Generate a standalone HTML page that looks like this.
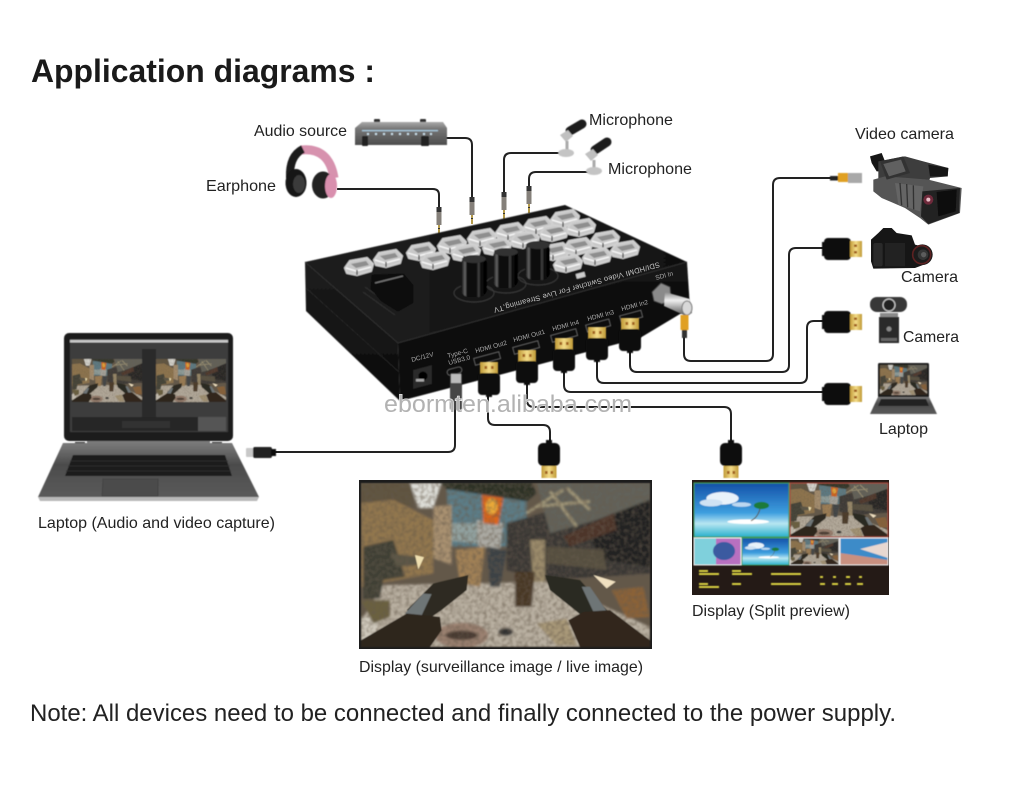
<!DOCTYPE html>
<html><head><meta charset="utf-8"><title>Application diagrams</title>
<style>html,body{margin:0;padding:0;background:#fff;width:1013px;height:805px;overflow:hidden}svg{display:block;font-family:"Liberation Sans",Arial,sans-serif}</style></head>
<body>
<svg width="1013" height="805" viewBox="0 0 1013 805" xmlns="http://www.w3.org/2000/svg">
<defs>
<filter id="s" x="-30%" y="-30%" width="160%" height="160%"><feGaussianBlur stdDeviation="0.5"/></filter>
<filter id="sb" x="-5%" y="-5%" width="110%" height="110%"><feGaussianBlur stdDeviation="3"/></filter>
<filter id="tex" x="0" y="0" width="100%" height="100%"><feTurbulence type="fractalNoise" baseFrequency=".09" numOctaves="2" seed="4"/><feGaussianBlur stdDeviation="1.500"/><feColorMatrix type="matrix" values="0 0 0 0 .13  0 0 0 0 .1  0 0 0 0 .07  1.300 0 0 0 -.5"/></filter>
<linearGradient id="knob" x1="0" y1="0" x2="1" y2="0"><stop offset="0" stop-color="#0a0a0a"/><stop offset=".16" stop-color="#666"/><stop offset=".24" stop-color="#0c0c0c"/><stop offset=".6" stop-color="#111"/><stop offset=".68" stop-color="#444"/><stop offset=".76" stop-color="#0c0c0c"/><stop offset="1" stop-color="#000"/></linearGradient>
<linearGradient id="gold" x1="0" y1="0" x2="1" y2="0"><stop offset="0" stop-color="#c09a38"/><stop offset=".5" stop-color="#f4dc88"/><stop offset="1" stop-color="#c09a38"/></linearGradient>
<linearGradient id="sky" x1="0" y1="0" x2="0" y2="1"><stop offset="0" stop-color="#1450a8"/><stop offset=".55" stop-color="#3d9ede"/><stop offset=".75" stop-color="#b8e6f2"/><stop offset="1" stop-color="#28b0cc"/></linearGradient>
<linearGradient id="audio" x1="0" y1="0" x2="0" y2="1"><stop offset="0" stop-color="#aaa"/><stop offset=".3" stop-color="#777"/><stop offset="1" stop-color="#4c4c4c"/></linearGradient>
<linearGradient id="front" x1="0" y1="0" x2="0" y2="1"><stop offset="0" stop-color="#131313"/><stop offset="1" stop-color="#0a0a0a"/></linearGradient>
<linearGradient id="side" x1="0" y1="0" x2="0" y2="1"><stop offset="0" stop-color="#1d1d1d"/><stop offset="1" stop-color="#0c0c0c"/></linearGradient>
<linearGradient id="top" x1="0" y1="0" x2="1" y2="0"><stop offset="0" stop-color="#1e1e1e"/><stop offset="1" stop-color="#111"/></linearGradient>
<linearGradient id="base" x1="0" y1="0" x2="0" y2="1"><stop offset="0" stop-color="#7a7a7a"/><stop offset=".4" stop-color="#4c4c4c"/><stop offset="1" stop-color="#5a5a5a"/></linearGradient>
<linearGradient id="silver" x1="0" y1="0" x2="0" y2="1"><stop offset="0" stop-color="#888"/><stop offset=".35" stop-color="#f0f0f0"/><stop offset=".7" stop-color="#999"/><stop offset="1" stop-color="#555"/></linearGradient>

<symbol id="game" viewBox="33 40 867 490" preserveAspectRatio="none">
<rect x="33" y="40" width="867" height="490" fill="#63584a"/>
<g filter="url(#sb)">
<polygon points="33,40 190,40 190,115 130,95 33,105" fill="#5e5240"/>
<polygon points="180,40 275,40 250,115 205,115" fill="#dcdcd6"/>
<polygon points="290,60 530,60 530,230 300,230" fill="#5c7c86"/>
<polygon points="300,160 390,160 390,222 300,212" fill="#90a09e"/>
<polygon points="33,100 130,90 250,150 250,310 33,350" fill="#91764e"/>
<polygon points="250,110 305,105 305,285 250,265" fill="#a89070"/>
<polygon points="270,40 545,40 560,70 530,95 290,58" fill="#2f3028"/>
<polygon points="380,150 460,160 450,240 385,230" fill="#aaa9a2"/>
<polygon points="395,75 460,85 445,165 400,160" fill="#d8651f"/>
<ellipse cx="425" cy="110" rx="18" ry="24" fill="#e9a838"/>
<polygon points="470,160 900,40 900,310 590,330 470,300" fill="#3a3935"/>
<polygon points="560,40 900,40 900,90 740,150 600,190" fill="#62625a"/>
<path d="M560 110 L720 95 M600 65 L680 170 M650 55 L720 120 M530 130 L640 60" stroke="#a49a7a" stroke-width="8" fill="none"/>
<polygon points="700,170 900,90 900,290 760,270" fill="#232323"/>
<polygon points="640,200 790,130 800,180 660,230" fill="#4e342a"/>
<polygon points="590,230 760,240 770,300 590,280" fill="#56503f"/>
<polygon points="540,210 585,210 585,340 550,340" fill="#9a8a6a"/>
<polygon points="100,345 600,335 900,470 900,530 33,530 33,450" fill="#b8afa0"/>
<polygon points="33,440 90,440 70,510 33,510" fill="#cfc9bc"/>
<polygon points="315,240 405,230 390,350 330,340" fill="#a08055"/>
<polygon points="410,230 470,240 450,350 420,350" fill="#3d4244"/>
<polygon points="40,230 130,210 165,320 100,330 90,385 40,385" fill="#3f3f35"/>
<polygon points="120,250 200,260 205,285 140,290" fill="#5a5544"/>
<polygon points="33,390 120,390 120,440 70,460" fill="#6a6040"/>
<polygon points="495,305 555,305 545,410 495,410" fill="#4a3828"/>
<polygon points="785,360 880,350 900,440 830,445" fill="#8a6238"/>
<polygon points="560,460 650,445 680,525 620,525" fill="#a89878"/>
<ellipse cx="335" cy="495" rx="80" ry="38" fill="#9a8070"/><ellipse cx="335" cy="495" rx="48" ry="14" fill="#4a3a30"/>
<ellipse cx="467" cy="485" rx="22" ry="12" fill="#333"/>
</g>
<rect x="33" y="40" width="867" height="490" filter="url(#tex)"/>
<polygon points="195,255 222,262 205,298" fill="#f0e0b0"/>
<polygon points="730,315 797,335 770,355" fill="#f0e0c0"/>
<polygon points="170,420 250,340 355,315 350,360 275,420 230,450" fill="#2e2a20"/>
<polygon points="165,430 220,370 245,372 212,442" fill="#6e7476"/>
<polygon points="33,530 33,510 170,430 270,440 275,480 240,530" fill="#2f271e"/>
<polygon points="585,315 690,330 780,430 700,440 600,360" fill="#2b2a22"/>
<polygon points="695,350 720,350 775,430 735,435" fill="#6e7476"/>
<polygon points="655,450 700,425 780,420 900,510 900,530 690,530" fill="#30281e"/>
</symbol>

<symbol id="beach" viewBox="0 0 100 60" preserveAspectRatio="none">
<rect width="100" height="60" fill="url(#sky)"/>
<ellipse cx="30" cy="17" rx="17" ry="7" fill="#e8f2fa"/><ellipse cx="18" cy="22" rx="12" ry="4" fill="#cfe2f3"/><ellipse cx="50" cy="24" rx="10" ry="2.500" fill="#bcd8f0"/>
<ellipse cx="57" cy="43" rx="22" ry="2.600" fill="#fff"/>
<path d="M60 42 Q68 38 70 26" stroke="#5a4a30" stroke-width="1" fill="none"/>
<ellipse cx="71" cy="25" rx="8" ry="4" fill="#1d7a3a"/>
</symbol>

<g id="b">
<path d="M-14,1 L-9,-6 L8,-9 L14,-3 L12,4 L-2,8 L-12,6Z" fill="#c8c8c8" stroke="#d0d0d0" stroke-width="2" stroke-linejoin="round"/>
<path d="M-8,-3 L7,-6 L10,-2 L-3,1Z" fill="#8e8e8e"/>
<path d="M-13,1 L-3,4 L12,0" stroke="#f4f4f4" stroke-width="1.600" fill="none"/>
<path d="M-2,3 L-2,8" stroke="#222" stroke-width="1.200"/>
</g>

<g id="hv"><rect x="-9" y="0" width="18" height="12" fill="url(#gold)"/><rect x="-4.500" y="4" width="2.600" height="3" fill="#a0601c"/><rect x="2" y="4" width="2.600" height="3" fill="#a0601c"/><rect x="-11" y="11" width="22" height="22" rx="4" fill="#111"/><rect x="-3" y="32" width="6" height="3" fill="#111"/></g>
<g id="hd"><rect x="-7.500" y="0" width="15" height="12" fill="url(#gold)"/><rect x="-4" y="4" width="2.600" height="3" fill="#a0601c"/><rect x="1.500" y="4" width="2.600" height="3" fill="#a0601c"/><rect x="-11" y="12" width="22" height="23" rx="5" fill="#111"/><rect x="-3" y="34" width="6" height="4" fill="#111"/></g>
<g id="hh"><rect x="0" y="4" width="3" height="14" fill="#111"/><rect x="2" y="0" width="27" height="22" rx="4" fill="#111"/><rect x="28" y="3" width="12" height="16" fill="url(#gold)"/><rect x="32" y="6.500" width="3" height="2.500" fill="#a0601c"/><rect x="32" y="13" width="3" height="2.500" fill="#a0601c"/></g>
<g id="jack"><rect x="-2.500" y="0" width="5" height="5" fill="#333"/><rect x="-2.500" y="5" width="5" height="13" fill="#85807a"/><rect x="-1" y="18" width="2" height="9" fill="#b49a4a"/><rect x="-1" y="21" width="2" height="1" fill="#333"/></g>
</defs>

<rect width="1013" height="805" fill="#fff"/>

<!-- Cables -->
<g fill="none" stroke="#222" stroke-width="2">
<path d="M337 189 H433 Q439 189 439 195 V210"/>
<path d="M445 138 H465 Q472 138 472 145 V200"/>
<path d="M563 153 H511 Q504 153 504 160 V195"/>
<path d="M588 172 H536 Q529 172 529 179 V188"/>
<path d="M684 335 V354 Q684 361 691 361 H766 Q773 361 773 354 V185 Q773 178 780 178 H832"/>
<path d="M630 352 V365 Q630 372 637 372 H782 Q789 372 789 365 V255 Q789 248 796 248 H826"/>
<path d="M597 360 V376 Q597 383 604 383 H800 Q807 383 807 376 V328 Q807 321 814 321 H826"/>
<path d="M564 372 V385 Q564 392 571 392 H826"/>
<path d="M527 384 V400 Q527 407 534 407 H724 Q731 407 731 414 V442"/>
<path d="M488 394 V418 Q488 425 495 425 H543 Q550 425 550 432 V442"/>
<path d="M455 400 V445 Q455 452 448 452 H274"/>
</g>

<!-- Jacks -->
<use href="#jack" x="439" y="207"/><use href="#jack" x="472" y="197"/><use href="#jack" x="504" y="192"/><use href="#jack" x="529" y="186"/>

<!-- Device -->
<g filter="url(#s)">
<polygon points="305,262 398,343 400,401 306,311" fill="url(#side)"/>
<polygon points="398,343 687,262 690,308 640,338 400,401" fill="url(#front)"/>
<polygon points="305,262 565,205 687,262 398,343" fill="url(#top)"/>
<path d="M305 262 L398 343 L687 262" stroke="#333" stroke-width="1" fill="none"/>
<path d="M306 288 L399 372" stroke="#262626" stroke-width="1"/>
<use href="#b" x="359" y="267"/><use href="#b" x="388" y="259"/><use href="#b" x="421" y="252"/><use href="#b" x="435" y="261"/>
<use href="#b" x="452" y="245"/><use href="#b" x="466" y="253"/><use href="#b" x="482" y="238"/><use href="#b" x="497" y="247"/>
<use href="#b" x="510" y="232"/><use href="#b" x="525" y="240"/><use href="#b" x="538" y="226"/><use href="#b" x="554" y="233"/>
<use href="#b" x="565" y="219"/><use href="#b" x="581" y="228"/><use href="#b" x="605" y="240"/><use href="#b" x="625" y="250"/>
<use href="#b" x="555" y="252"/><use href="#b" x="578" y="247"/><use href="#b" x="597" y="257"/><use href="#b" x="568" y="264"/>
<rect x="576" y="273" width="9" height="5" fill="#ccc" transform="rotate(-15 580 275)"/>
<!-- Fader -->
<path d="M365 287 L397 310 M363 292 L395 315" stroke="#333" stroke-width="1"/>
<path d="M373 276 L403 275 L412 286 L412 302 L398 310 L382 300 L372 288Z" fill="#0c0c0c" stroke="#0c0c0c" stroke-width="3" stroke-linejoin="round"/>
<path d="M375 283 L403 276" stroke="#777" stroke-width="1.400"/>
<!-- Knobs -->
<ellipse cx="474" cy="293" rx="20" ry="9" fill="none" stroke="#3a3a3a"/><ellipse cx="506" cy="284" rx="20" ry="9" fill="none" stroke="#3a3a3a"/><ellipse cx="538" cy="276" rx="20" ry="9" fill="none" stroke="#3a3a3a"/>
<rect x="461" y="256" width="26" height="41" rx="8" fill="url(#knob)"/><ellipse cx="474" cy="259" rx="12" ry="4" fill="#333"/>
<rect x="493" y="249" width="25" height="39" rx="8" fill="url(#knob)"/><ellipse cx="506" cy="252" rx="12" ry="4" fill="#333"/>
<rect x="525" y="242" width="25" height="38" rx="8" fill="url(#knob)"/><ellipse cx="538" cy="245" rx="12" ry="4" fill="#333"/>
</g>
<g fill="#aaa" font-size="6.500">
<text transform="translate(659,262) rotate(164.500)" textLength="172" font-size="7.500" fill="#c4c4c4">SDI/HDMI Video Switcher For Live Streaming,TV</text>
<text transform="translate(412,362) rotate(-15)">DC/12V</text>
<text transform="translate(448,358) rotate(-15)">Type-C</text>
<text transform="translate(449,365) rotate(-15)">USB3.0</text>
<text transform="translate(476,353) rotate(-15)">HDMI Out2</text>
<text transform="translate(514,342) rotate(-15)">HDMI Out1</text>
<text transform="translate(553,331) rotate(-15)">HDMI In4</text>
<text transform="translate(588,321) rotate(-15)">HDMI In3</text>
<text transform="translate(622,311) rotate(-15)">HDMI In2</text>
<text transform="translate(656,280) rotate(-15)">SDI In</text>
</g>
<g filter="url(#s)">
<!-- DC jack -->
<polygon points="413,370 432,365 432,384 413,389" fill="#2a2a2a"/><circle cx="423" cy="376" r="4.500" fill="#050505"/><rect x="416" y="379" width="8" height="2.500" fill="#aaa"/>
<!-- Port slots -->
<g fill="none" stroke="#666" stroke-width="1">
<rect x="447" y="368" width="15" height="6" rx="3" transform="rotate(-15 455 371)"/>
<rect x="474" y="355" width="26" height="7" transform="rotate(-15 487 358)"/>
<rect x="513" y="344" width="26" height="7" transform="rotate(-15 526 347)"/>
<rect x="551" y="332" width="26" height="7" transform="rotate(-15 564 335)"/>
<rect x="586" y="322" width="24" height="7" transform="rotate(-15 598 325)"/>
<rect x="620" y="313" width="22" height="7" transform="rotate(-15 631 316)"/>
</g>
<!-- BNC -->
<polygon points="652,292 661,283 670,287 671,299 662,304 654,301" fill="#8a8a8a" stroke="#444"/>
<polygon points="665,292 690,299 692,313 686,316 664,306" fill="url(#silver)"/>
<ellipse cx="687" cy="308" rx="5" ry="7" fill="#d8d8d8" stroke="#777"/>
<rect x="680.500" y="315" width="8" height="15" fill="#e0a020"/><rect x="682" y="330" width="5" height="8" fill="#333"/>
<!-- Type-C -->
<rect x="450" y="373" width="12" height="37" rx="2" fill="#444"/><rect x="451" y="374" width="10" height="9" fill="#bbb"/>
<!-- HDMI in device -->
<use href="#hv" x="489" y="362"/><use href="#hv" x="527" y="350"/><use href="#hv" x="564" y="338"/><use href="#hv" x="597" y="327"/><use href="#hv" x="630" y="318"/>
<!-- HDMI right -->
<use href="#hh" x="822" y="238"/><use href="#hh" x="822" y="311"/><use href="#hh" x="822" y="383"/>
<!-- BNC at camera -->
<rect x="830" y="176" width="8" height="4.500" fill="#222"/><rect x="838" y="173" width="10" height="9" fill="#e0a020"/><rect x="848" y="173" width="14" height="10" fill="#a8a8a8"/>
<!-- HDMI displays (pointing down) -->
<g transform="translate(549,478) scale(1,-1)"><use href="#hd"/></g>
<g transform="translate(731,478) scale(1,-1)"><use href="#hd"/></g>
<!-- USB-C on laptop cable -->
<rect x="246" y="448" width="8" height="9" rx="1" fill="#c8c8c8"/><rect x="253" y="447" width="19" height="11" rx="2" fill="#222"/><rect x="271" y="449" width="5" height="7" fill="#111"/>
</g>

<!-- Audio source -->
<g filter="url(#s)">
<rect x="374" y="119" width="6" height="4" rx="1" fill="#333"/><rect x="420" y="119" width="6" height="4" rx="1" fill="#333"/>
<polygon points="355,128 362,122 443,122 447,128 447,145 355,145" fill="url(#audio)"/>
<rect x="362" y="130" width="76" height="1.300" fill="#a8c8dc"/>
<g fill="#c8dce8"><rect x="367" y="133" width="2" height="2"/><rect x="375" y="133" width="2" height="2"/><rect x="383" y="133" width="2" height="2"/><rect x="391" y="133" width="2" height="2"/><rect x="399" y="133" width="2" height="2"/><rect x="407" y="133" width="2" height="2"/><rect x="415" y="133" width="2" height="2"/><rect x="423" y="133" width="2" height="2"/><rect x="430" y="133" width="2" height="2"/></g>
<rect x="362" y="136" width="6" height="10" rx="1" fill="#222"/><rect x="421" y="136" width="8" height="10" rx="1" fill="#222"/>
</g>
<!-- Headphones -->
<g filter="url(#s)">
<path d="M301 150 Q329 147 334 178" fill="none" stroke="#d792ae" stroke-width="9"/>
<path d="M290 178 Q289 156 303 149" fill="none" stroke="#1a1a1a" stroke-width="8"/>
<ellipse cx="296" cy="183" rx="10.500" ry="14" fill="#141414"/><ellipse cx="299" cy="184" rx="6" ry="9" fill="#3a3a3a"/>
<ellipse cx="323" cy="185" rx="11" ry="13.500" fill="#222"/>
<ellipse cx="331" cy="186" rx="6" ry="12" fill="#d98fae"/>
</g>
<!-- Microphones -->
<g filter="url(#s)">
<path d="M570 131 L582 124" stroke="#1f1f1f" stroke-width="9" stroke-linecap="round"/>
<path d="M560 135 L568 130 L573 136 L566 142Z" fill="#c0c0c0"/>
<path d="M567 141 L567 150" stroke="#aaa" stroke-width="3"/>
<ellipse cx="566" cy="153" rx="8" ry="4" fill="#c4c4c4"/>
<path d="M595 150 L607 142" stroke="#1f1f1f" stroke-width="9" stroke-linecap="round"/>
<path d="M585 154 L593 149 L598 155 L591 161Z" fill="#c0c0c0"/>
<path d="M594 160 L594 168" stroke="#aaa" stroke-width="3"/>
<ellipse cx="594" cy="171" rx="8" ry="4" fill="#c4c4c4"/>
</g>

<!-- Video camera + DSLR: coordinates in 3x space -->
<g filter="url(#s)" transform="translate(865,148) scale(.33333)">
<polygon points="15,25 50,15 60,40 55,70 35,70 20,45" fill="#161616"/>
<polygon points="40,40 120,25 175,40 250,60 248,85 195,90 190,110 40,105" fill="#3c3c3c"/>
<polygon points="190,50 250,60 248,85 195,85" fill="#161616"/>
<polygon points="25,95 60,85 130,90 190,95 290,120 285,195 190,230 165,210 120,180 50,150 25,130" fill="#555"/>
<polygon points="45,40 115,25 135,75 65,95" fill="#333"/>
<polygon points="55,48 108,35 122,70 72,85" fill="#606060"/>
<polygon points="90,105 175,115 165,190 100,170" fill="#656565"/>
<path d="M105 105 L110 172 M125 108 L128 178 M145 112 L146 184" stroke="#333" stroke-width="4"/>
<polygon points="172,130 285,120 282,195 190,228 168,205" fill="#222"/>
<polygon points="215,132 275,125 272,190 220,205" fill="#0a0a0a"/>
<circle cx="190" cy="155" r="15" fill="#6e2a3a"/><circle cx="190" cy="155" r="6" fill="#e9c0c8"/>
<!-- DSLR -->
<path d="M18 275 L40 255 L55 240 L80 240 L95 255 L140 262 L150 290 L190 300 L190 345 L150 360 L25 362 L18 340Z" fill="#181818"/>
<rect x="25" y="285" width="28" height="70" rx="6" fill="#2a2a2a"/>
<rect x="60" y="285" width="60" height="70" fill="#202020"/>
<circle cx="172" cy="320" r="31" fill="#1a1a1a"/>
<circle cx="170" cy="320" r="27" fill="none" stroke="#5c2020" stroke-width="5"/>
<circle cx="174" cy="320" r="16" fill="#363636"/><circle cx="176" cy="320" r="8" fill="#5c5c5c"/>
</g>
<!-- Webcam -->
<g filter="url(#s)">
<rect x="870" y="297" width="37" height="15" rx="7" fill="#383838"/>
<circle cx="889" cy="305" r="6" fill="#222" stroke="#ccc" stroke-width="1.200"/>
<rect x="880" y="313" width="18" height="4" fill="#8a8a8a"/>
<rect x="879" y="317" width="20" height="26" fill="#2c2c2c"/>
<circle cx="889" cy="329" r="2.500" fill="#888"/><rect x="881" y="338" width="16" height="3" fill="#666"/>
</g>
<!-- Small laptop -->
<g filter="url(#s)">
<rect x="878" y="363" width="51" height="35" rx="1.500" fill="#1c1c1c"/>
<svg x="880" y="365" width="47" height="30"><use href="#game" width="47" height="30"/></svg>
<polygon points="878,397 929,397 937,414 870,414" fill="url(#base)"/>
<polygon points="881,399 926,399 929,406 878,406" fill="#222"/>
</g>

<!-- Big laptop -->
<g filter="url(#s)">
<rect x="64" y="333" width="169" height="108" rx="5" fill="#1c1c1c"/>
<rect x="70" y="339" width="158" height="93" fill="#3c3c3c"/>
<rect x="70" y="340" width="158" height="2.500" fill="#c8c8c8"/>
<rect x="142" y="349" width="14" height="68" fill="#2a2a2a"/>
<svg x="72" y="359" width="70" height="43"><use href="#game" width="70" height="43"/></svg>
<svg x="156" y="359" width="70" height="43"><use href="#game" width="70" height="43"/></svg>
<rect x="72" y="417" width="154" height="14" fill="#252525"/>
<rect x="122" y="421" width="48" height="7" fill="#333"/><rect x="198" y="417" width="28" height="14" fill="#555"/>
<rect x="75" y="442" width="10" height="6" fill="#222"/><rect x="212" y="442" width="10" height="6" fill="#222"/>
<rect x="87" y="441" width="123" height="6" fill="#7a7a7a"/>
<polygon points="63,443 232,443 259,497 38,497" fill="url(#base)"/>
<polygon points="38,497 259,497 257,501 40,501" fill="#b8b8b8"/>
<polygon points="73,455 225,455 232,476 65,476" fill="#1f1f1f"/>
<path d="M70 461 H228 M68 466 H230 M66 471 H231" stroke="#333" stroke-width=".8"/>
<polygon points="103,479 158,479 158,496 102,496" fill="#4c4c4c" stroke="#3a3a3a" stroke-width=".6"/>
</g>

<!-- Main display -->
<rect x="359" y="480" width="293" height="169" fill="#1c1c1c"/>
<g filter="url(#s)"><svg x="361" y="483" width="289" height="164"><use href="#game" width="289" height="164"/></svg></g>

<!-- Split display -->
<rect x="692" y="480" width="197" height="115" fill="#241a16"/>
<g filter="url(#s)">
<svg x="694" y="483" width="95" height="54"><use href="#beach" width="95" height="54"/></svg>
<rect x="694" y="483" width="95" height="54" fill="none" stroke="#3e9a5c" stroke-width="1.200"/>
<svg x="790" y="483" width="98" height="54"><use href="#game" width="98" height="54"/></svg>
<rect x="790" y="483" width="98" height="54" fill="none" stroke="#a84a3c" stroke-width="1.200"/>
<rect x="694" y="538" width="47" height="27" fill="#7fd0dc"/><rect x="716" y="538" width="25" height="27" fill="#b870c0"/><ellipse cx="724" cy="551" rx="11" ry="9" fill="#3a5aa0"/><rect x="694" y="538" width="47" height="27" fill="none" stroke="#eee"/>
<svg x="742" y="538" width="47" height="27"><use href="#beach" width="47" height="27"/></svg><rect x="742" y="538" width="47" height="27" fill="none" stroke="#3e9a5c"/>
<svg x="790" y="538" width="49" height="27"><use href="#game" width="49" height="27"/></svg><rect x="790" y="538" width="49" height="27" fill="none" stroke="#ddd"/>
<rect x="840" y="538" width="48" height="27" fill="#3d8bc8"/><polygon points="840,553 888,560 888,565 840,565" fill="#c89080"/><polygon points="860,549 888,542 888,558" fill="#e8d8d0"/><rect x="840" y="538" width="48" height="27" fill="none" stroke="#eee"/>
<g fill="#d8d040">
<rect x="699" y="570" width="9" height="2"/><rect x="699" y="573" width="20" height="2"/><rect x="732" y="570" width="9" height="2"/><rect x="732" y="573" width="20" height="2"/><rect x="771" y="573" width="30" height="2"/>
<rect x="699" y="583" width="9" height="2"/><rect x="699" y="586" width="20" height="2"/><rect x="732" y="583" width="9" height="2"/><rect x="771" y="583" width="30" height="2"/>
<rect x="820" y="576" width="3" height="2"/><rect x="833" y="576" width="3" height="2"/><rect x="846" y="576" width="4" height="2"/><rect x="859" y="576" width="3" height="2"/>
<rect x="820" y="583" width="5" height="2"/><rect x="832" y="583" width="6" height="2"/><rect x="845" y="583" width="6" height="2"/><rect x="857" y="583" width="6" height="2"/>
</g>
</g>

<!-- Watermark -->
<text x="384" y="412" font-size="24" fill="#b2b2b2" stroke="#fff" stroke-width="1" paint-order="stroke" textLength="248" lengthAdjust="spacingAndGlyphs">ebormten.alibaba.com</text>

<!-- Labels -->
<g fill="#222">
<text x="31" y="82" font-size="32" font-weight="bold" fill="#1a1a1a" textLength="344" lengthAdjust="spacingAndGlyphs">Application diagrams :</text>
<g font-size="16">
<text x="254" y="136" textLength="93" lengthAdjust="spacingAndGlyphs">Audio source</text>
<text x="206" y="191" textLength="70" lengthAdjust="spacingAndGlyphs">Earphone</text>
<text x="589" y="125" textLength="84" lengthAdjust="spacingAndGlyphs">Microphone</text>
<text x="608" y="174" textLength="84" lengthAdjust="spacingAndGlyphs">Microphone</text>
<text x="855" y="139" textLength="99" lengthAdjust="spacingAndGlyphs">Video camera</text>
<text x="901" y="282" textLength="57" lengthAdjust="spacingAndGlyphs">Camera</text>
<text x="903" y="342" textLength="56" lengthAdjust="spacingAndGlyphs">Camera</text>
<text x="879" y="434" textLength="49" lengthAdjust="spacingAndGlyphs">Laptop</text>
<text x="38" y="528" textLength="237" lengthAdjust="spacingAndGlyphs">Laptop (Audio and video capture)</text>
<text x="359" y="672" textLength="284" lengthAdjust="spacingAndGlyphs">Display (surveillance image / live image)</text>
<text x="692" y="616" textLength="158" lengthAdjust="spacingAndGlyphs">Display (Split preview)</text>
</g>
<text x="30" y="721" font-size="24" textLength="866" lengthAdjust="spacingAndGlyphs">Note: All devices need to be connected and finally connected to the power supply.</text>
</g>
</svg>
</body></html>
